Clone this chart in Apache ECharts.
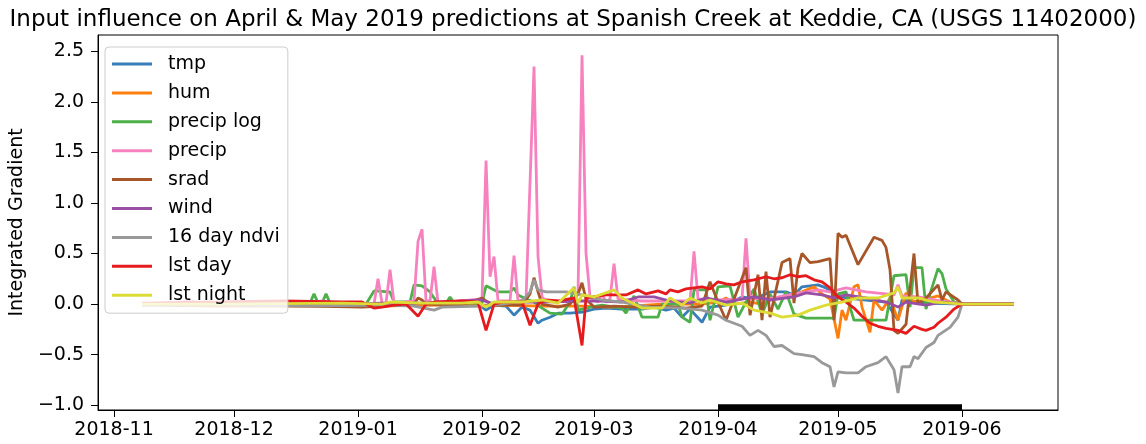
<!DOCTYPE html>
<html>
<head>
<meta charset="utf-8">
<script src="https://cdn.jsdelivr.net/npm/echarts@6/dist/echarts.min.js"></script>
<style>
html, body { margin: 0; padding: 0; background: #fff; }
#chart { width: 1146px; height: 444px; }
</style>
</head>
<body>
<div id="chart"></div>
<script>
// x values are days counted from 2018-11-08
const monthTicks = [-7, 23, 54, 85, 113, 144, 174, 205]
const monthLabels = ['2018-11', '2018-12', '2019-01', '2019-02', '2019-03', '2019-04', '2019-05', '2019-06']
const yTicks = [-1, -0.5, 0, 0.5, 1, 1.5, 2, 2.5]
const targetWindow = [144, 205] // April & May

const tmp = [[0,0],[30,-0.01],[54,-0.01],[58,-0.03],[62,-0.01],[68,-0.01],[84,0],[86,-0.06],[88,-0.01],[91,-0.02],[93,-0.11],[95,-0.03],[97,-0.06],[99,-0.19],[100,-0.16],[102,-0.13],[104,-0.09],[107,-0.09],[110,-0.08],[113,-0.05],[116,-0.04],[120,-0.05],[125,-0.05],[128,-0.03],[131,-0.06],[133,-0.04],[135,-0.13],[137,-0.05],[140,-0.18],[142,-0.03],[146,-0.01],[150,0.07],[153,0.05],[157,0.12],[161,0.12],[163,0.09],[165,0.17],[169,0.19],[171,0.16],[173,0.1],[176,0.06],[181,0.04],[186,0.02],[189,-0.16],[190,0.04],[196,0.01],[205,0],[218,0]]
const hum = [[0,-0.01],[20,-0.02],[40,-0.02],[60,-0.02],[70,-0.01],[90,-0.01],[100,-0.02],[110,-0.02],[117,-0.03],[122,-0.02],[130,0],[140,0],[144,0.02],[146,0.06],[148,0],[152,0.02],[155,0],[158,0.06],[162,0.08],[165,0.12],[168,0.17],[170,0.1],[172,0.05],[174,-0.34],[175,-0.06],[176,-0.16],[178,0.17],[179,0.19],[180,-0.03],[182,-0.28],[183,0.04],[185,-0.06],[187,0.06],[189,-0.16],[191,0.11],[193,0.02],[196,0.05],[199,0.08],[202,0.02],[205,0],[218,0]]
const precipLog = [[0,0],[40,0],[42,0.01],[43,0.1],[44,0.01],[45,0.01],[46,0.1],[47,0.01],[56,0],[58,0.13],[62,0.12],[63,0.02],[67,0.02],[68,0.19],[70,0.18],[72,0.12],[73,0.06],[74,0.01],[76,0.01],[77,0.07],[78,0.01],[85,0.01],[86,0.18],[89,0.12],[92,0.12],[93,0.16],[94,0.09],[96,0.05],[98,0.02],[100,-0.04],[102,-0.09],[105,-0.1],[107,0.02],[108,0.17],[109,-0.06],[112,-0.03],[115,-0.01],[120,-0.04],[121,-0.09],[123,0.08],[125,-0.13],[129,-0.13],[130,0],[134,0],[135,-0.13],[137,-0.18],[138,0.14],[141,0.14],[142,-0.16],[144,0.17],[147,0.18],[149,-0.13],[151,0.02],[153,0.15],[155,-0.1],[157,0.1],[159,-0.05],[161,0.12],[163,-0.1],[166,-0.14],[173,-0.14],[174,0.1],[176,0.12],[177,-0.03],[178,-0.16],[186,-0.16],[188,0.28],[191,0.29],[192,-0.03],[193,0.36],[195,0.36],[196,-0.05],[197,0.1],[199,0.35],[200,0.3],[201,0.15],[203,0.02],[205,0],[218,0]]
const precip = [[0,0],[10,0.02],[12,0.04],[14,0.01],[40,0],[45,0.03],[50,0],[58,0],[59,0.25],[60,0.01],[61,0.01],[62,0.34],[63,0.01],[68,0.03],[69,0.62],[70,0.74],[71,0.03],[72,0.03],[73,0.37],[74,0.01],[85,0.05],[86,1.42],[87,0.27],[88,0.47],[89,0.03],[92,0.03],[93,0.48],[94,0.03],[96,0.05],[98,2.35],[99,0.47],[100,0.07],[101,0.03],[108,0.03],[109,0.1],[110,2.46],[111,0.5],[112,0.07],[114,0.02],[115,0.1],[116,0.02],[117,0.05],[118,0.4],[119,0.05],[125,0.03],[137,0.03],[138,0.52],[139,0.05],[145,0.04],[150,0.05],[151,0.65],[152,0.05],[158,0.06],[163,0.1],[169,0.14],[172,0.12],[176,0.16],[181,0.12],[186,0.1],[188,0.09],[189,0.19],[190,0.08],[194,0.07],[200,0.03],[205,0],[218,0]]
const srad = [[0,0],[30,-0.01],[55,-0.03],[60,-0.02],[68,0],[69,0.06],[70,0.04],[71,0],[80,-0.01],[85,0.06],[86,0.03],[88,-0.01],[95,-0.01],[97,0.1],[98,0.26],[99,0.12],[100,0],[104,-0.03],[107,0],[109,0.1],[110,0.21],[111,0.05],[113,-0.03],[118,-0.02],[123,-0.03],[130,-0.02],[136,-0.04],[140,-0.02],[142,0.22],[144,0.02],[146,-0.16],[148,0.05],[151,0.36],[152,-0.11],[154,0.29],[155,-0.16],[156,0.32],[157,-0.13],[160,0.41],[162,0.45],[163,0.01],[164,0.36],[165,0.5],[167,0.41],[169,0.42],[172,0.45],[173,-0.16],[174,0.7],[175,0.66],[176,0.68],[179,0.39],[183,0.66],[185,0.63],[186,0.56],[187,0.34],[188,-0.26],[189,-0.29],[191,-0.2],[193,0.5],[194,0],[196,0.06],[199,0.19],[200,0.04],[201,0.12],[204,0.04],[205,0],[218,0]]
const wind = [[0,0],[50,0],[60,0.01],[70,0.01],[85,0.04],[87,0.01],[95,0.02],[100,0.02],[110,0.03],[115,0.03],[120,0.02],[124,0.07],[128,0.07],[132,0.03],[137,0.01],[141,0.06],[146,0.02],[153,0.07],[157,0.04],[163,0.07],[166,0.11],[170,0.09],[173,0.06],[176,0.09],[181,0.06],[186,0.02],[189,-0.03],[191,0.02],[196,-0.01],[200,0.02],[205,0],[218,0]]
const ndvi = [[0,-0.01],[20,-0.01],[40,-0.02],[60,-0.01],[68,-0.02],[73,-0.06],[75,-0.03],[85,-0.02],[90,0],[95,0.03],[97,0.12],[98,0.24],[99,0.14],[101,0.12],[106,0.12],[110,0.09],[115,0.04],[120,0.02],[127,-0.03],[135,-0.04],[140,-0.06],[144,-0.11],[146,-0.16],[150,-0.22],[152,-0.31],[154,-0.26],[156,-0.31],[158,-0.42],[160,-0.41],[163,-0.49],[165,-0.5],[168,-0.52],[170,-0.58],[172,-0.62],[173,-0.82],[174,-0.67],[176,-0.68],[179,-0.68],[181,-0.62],[184,-0.58],[186,-0.52],[188,-0.65],[189,-0.88],[190,-0.62],[192,-0.62],[193,-0.52],[194,-0.54],[196,-0.43],[198,-0.38],[199,-0.31],[202,-0.23],[204,-0.13],[205,0],[218,0]]
const lstDay = [[0,0.01],[20,0.02],[35,0.03],[50,0.02],[55,0.02],[58,-0.04],[60,-0.03],[63,-0.01],[66,0],[69,-0.12],[71,0],[73,0.02],[80,0.03],[84,0.02],[86,-0.26],[88,0],[90,0.02],[95,0.02],[97,-0.21],[99,0],[101,0.04],[104,0.03],[108,0.06],[110,-0.41],[111,0.06],[116,0.09],[121,0.09],[124,0.14],[126,0.1],[129,0.13],[131,0.1],[132,0.14],[134,0.12],[136,0.15],[138,0.16],[140,0.17],[142,0.15],[144,0.22],[146,0.2],[148,0.19],[150,0.22],[153,0.24],[156,0.27],[158,0.25],[160,0.26],[162,0.29],[164,0.27],[166,0.28],[168,0.24],[170,0.22],[172,0.16],[174,0.07],[176,0.02],[178,-0.04],[180,-0.12],[182,-0.19],[184,-0.22],[186,-0.24],[189,-0.26],[191,-0.29],[193,-0.22],[195,-0.25],[196,-0.26],[198,-0.23],[199,-0.19],[201,-0.13],[203,-0.05],[205,0],[218,0]]
const lstNight = [[0,0],[20,0],[50,0.01],[60,0],[62,0.02],[70,0.01],[80,0.01],[84,0.02],[86,-0.03],[88,0.02],[95,0.02],[100,0.04],[104,0.01],[108,0.16],[109,0.01],[110,0.09],[113,0.07],[118,0.14],[120,0.06],[125,-0.04],[130,-0.04],[132,0.06],[135,-0.01],[137,0.06],[140,0.01],[142,0.04],[146,-0.01],[150,0.01],[153,-0.06],[157,-0.09],[160,-0.13],[164,-0.11],[167,-0.06],[171,-0.01],[175,0.02],[179,0.06],[184,0.06],[188,0.11],[189,0.17],[190,0.06],[194,0.06],[198,0.02],[202,0.01],[205,0],[218,0]]

const names = ['tmp', 'hum', 'precip log', 'precip', 'srad', 'wind', '16 day ndvi', 'lst day', 'lst night']
const colors = ['#377eb8', '#ff7f0e', '#4daf4a', '#f781bf', '#a65628', '#984ea3', '#999999', '#e41a1c', '#dcdc34']
const seriesData = [tmp, hum, precipLog, precip, srad, wind, ndvi, lstDay, lstNight]

const font = 'DejaVu Sans'
const chart = echarts.init(document.getElementById('chart'))

const series = names.map((name, i) => ({
  name,
  type: 'line',
  data: seriesData[i],
  symbol: 'none',
  color: colors[i],
  lineStyle: { width: 2.8, color: colors[i] }
}))
// black bar marking the predicted window
series[0].markArea = {
  silent: true,
  itemStyle: { color: '#000' },
  data: [[{ xAxis: targetWindow[0], yAxis: -0.99 }, { xAxis: targetWindow[1], yAxis: -1.048 }]]
}

chart.setOption({
  animation: false,
  backgroundColor: '#fff',
  title: {
    text: 'Input influence on April & May 2019 predictions at Spanish Creek at Keddie, CA (USGS 11402000)',
    left: 'center',
    top: 4,
    textStyle: { fontFamily: font, fontSize: 23, fontWeight: 'normal', color: '#000' }
  },
  legend: {
    data: names,
    orient: 'vertical',
    left: 105,
    top: 47,
    icon: 'rect',
    itemWidth: 40,
    itemHeight: 3,
    itemGap: 8.9,
    padding: [7, 8, 8, 7],
    backgroundColor: 'rgba(255,255,255,0.8)',
    borderColor: '#cccccc',
    borderWidth: 1,
    borderRadius: 4,
    textStyle: { fontFamily: font, fontSize: 19, color: '#000', lineHeight: 20, padding: [0, 0, 0, 11] }
  },
  grid: {
    left: 96, right: 88, top: 35, bottom: 34,
    show: true, borderColor: '#000', borderWidth: 1
  },
  xAxis: {
    type: 'value',
    min: -11,
    max: 229,
    splitLine: { show: false },
    axisLine: { onZero: false, lineStyle: { color: '#000' } },
    axisTick: { customValues: monthTicks, length: 7, lineStyle: { color: '#000' } },
    axisLabel: {
      customValues: monthTicks,
      formatter: v => monthLabels[monthTicks.indexOf(v)],
      fontFamily: font, fontSize: 19, color: '#000', margin: 11
    }
  },
  yAxis: {
    type: 'value',
    min: -1.048,
    max: 2.661,
    name: 'Integrated Gradient',
    nameLocation: 'middle',
    nameGap: 64,
    nameTextStyle: { fontFamily: font, fontSize: 19, color: '#000' },
    splitLine: { show: false },
    axisLine: { show: true, onZero: false, lineStyle: { color: '#000' } },
    axisTick: { show: true, customValues: yTicks, length: 7, lineStyle: { color: '#000' } },
    axisLabel: {
      customValues: yTicks,
      formatter: v => (v < 0 ? '\u2212' : '') + Math.abs(v).toFixed(1),
      fontFamily: font, fontSize: 19, color: '#000', margin: 14
    }
  },
  series
})
</script>
</body>
</html>
